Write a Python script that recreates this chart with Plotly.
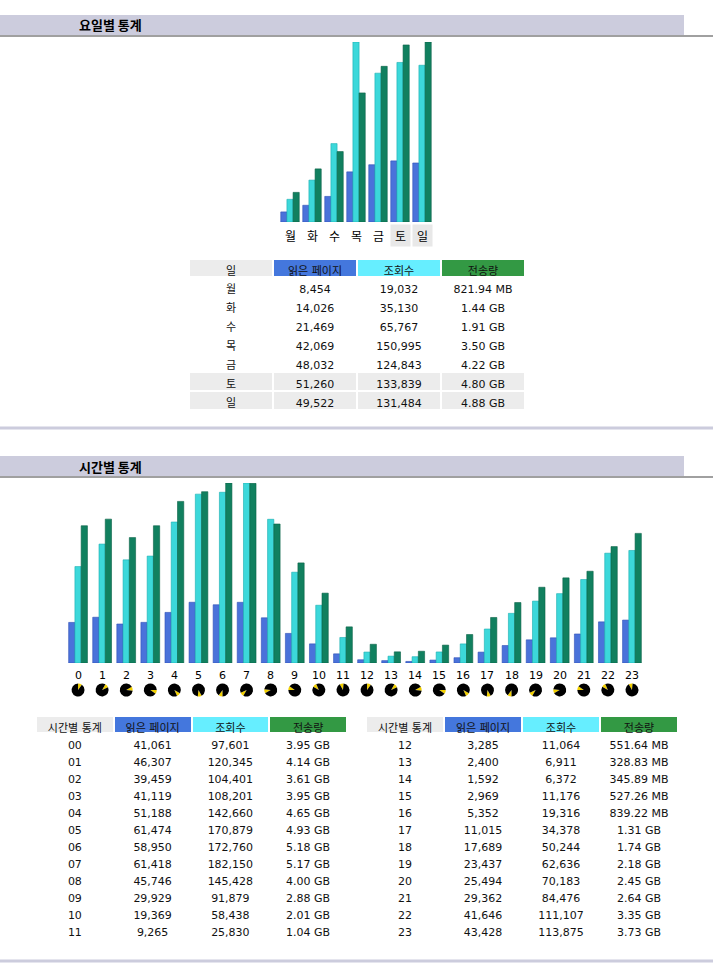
import plotly.graph_objects as go

# ---------------- data ----------------
days = ['월', '화', '수', '목', '금', '토', '일']
weekend_days = ['토', '일']
day_pages = [8454, 14026, 21469, 42069, 48032, 51260, 49522]
day_hits = [19032, 35130, 65767, 150995, 124843, 133839, 131484]
day_bw = ['821.94 MB', '1.44 GB', '1.91 GB', '3.50 GB', '4.22 GB', '4.80 GB', '4.88 GB']

hours = [str(h) for h in range(24)]
hour_labels = ['%02d' % h for h in range(24)]
hour_pages = [41061, 46307, 39459, 41119, 51188, 61474, 58950, 61418, 45746, 29929, 19369, 9265,
              3285, 2400, 1592, 2969, 5352, 11015, 17689, 23437, 25494, 29362, 41646, 43428]
hour_hits = [97601, 120345, 104401, 108201, 142660, 170879, 172760, 182150, 145428, 91879, 58438, 25830,
             11064, 6911, 6372, 11176, 19316, 34378, 50244, 62636, 70183, 84476, 111107, 113875]
hour_bw = ['3.95 GB', '4.14 GB', '3.61 GB', '3.95 GB', '4.65 GB', '4.93 GB', '5.18 GB', '5.17 GB',
           '4.00 GB', '2.88 GB', '2.01 GB', '1.04 GB', '551.64 MB', '328.83 MB', '345.89 MB',
           '527.26 MB', '839.22 MB', '1.31 GB', '1.74 GB', '2.18 GB', '2.45 GB', '2.64 GB',
           '3.35 GB', '3.73 GB']

col_titles_week = ['일', '읽은 페이지', '조회수', '전송량']
col_titles_hour = ['시간별 통계', '읽은 페이지', '조회수', '전송량']
section_titles = ['요일별 통계', '시간별 통계']

# ---------------- helpers ----------------
W, H = 713, 977
FONT = 'Verdana, DejaVu Sans, Noto Sans CJK KR, sans-serif'
C_PAGE, C_HIT, C_BW = '#4A72DA', '#3CD8DA', '#11805F'
C_PAGE_L, C_HIT_L, C_BW_L = '#2F4FB5', '#1AAFB0', '#0A6246'
HDR_COLORS = ['#ECECEC', '#4477DD', '#66EEFF', '#339944']
NB = '\u00a0'


def px(x):
    return x / W


def py(y):
    return 1 - y / H


def to_gb(s):
    v, u = s.split()
    v = float(v)
    return v / 1024 if u == 'MB' else v


def fmt(v):
    return f'{v:,}'


def nb(s):
    return s.replace(' ', NB)


day_bw_gb = [to_gb(s) for s in day_bw]
hour_bw_gb = [to_gb(s) for s in hour_bw]

fig = go.Figure()

# ---------------- weekly bars ----------------
wb = dict(width=0.28)
fig.add_trace(go.Bar(x=days, y=day_pages, offset=-0.42, marker=dict(color=C_PAGE, line=dict(color=C_PAGE_L, width=0.6)),
                     xaxis='x', yaxis='y', **wb))
fig.add_trace(go.Bar(x=days, y=day_hits, offset=-0.14, marker=dict(color=C_HIT, line=dict(color=C_HIT_L, width=0.6)),
                     xaxis='x', yaxis='y', **wb))
fig.add_trace(go.Bar(x=days, y=day_bw_gb, offset=0.14, marker=dict(color=C_BW, line=dict(color=C_BW_L, width=0.6)),
                     xaxis='x', yaxis='y2', **wb))

# ---------------- hourly bars ----------------
hb = dict(width=0.26)
fig.add_trace(go.Bar(x=hours, y=hour_pages, offset=-0.39, marker=dict(color=C_PAGE, line=dict(color=C_PAGE_L, width=0.6)),
                     xaxis='x3', yaxis='y3', **hb))
fig.add_trace(go.Bar(x=hours, y=hour_hits, offset=-0.13, marker=dict(color=C_HIT, line=dict(color=C_HIT_L, width=0.6)),
                     xaxis='x3', yaxis='y3', **hb))
fig.add_trace(go.Bar(x=hours, y=hour_bw_gb, offset=0.13, marker=dict(color=C_BW, line=dict(color=C_BW_L, width=0.6)),
                     xaxis='x3', yaxis='y4', **hb))

# ---------------- clocks ----------------
HX0, HX1 = 66, 644
step = (HX1 - HX0) / 24
for h in range(24):
    cx = HX0 + (h + 0.5) * step
    cy = 690
    r = 6.5
    fig.add_trace(go.Pie(values=[1, 9], marker=dict(colors=['#F2D000', '#000000'], line=dict(width=0)),
                         sort=False, direction='clockwise', rotation=(h % 12) * 30,
                         textinfo='none', hoverinfo='skip', showlegend=False,
                         domain=dict(x=[px(cx - r), px(cx + r)], y=[py(cy + r), py(cy - r)])))

# ---------------- tables ----------------
week_fill = [['#ECECEC' if d in weekend_days else 'white' for d in days]] * 4
fig.add_trace(go.Table(
    domain=dict(x=[px(189), px(525)], y=[py(420), py(259)]),
    columnwidth=[1, 1, 1, 1],
    header=dict(values=[nb(t) for t in col_titles_week], fill_color=HDR_COLORS, line=dict(color='white', width=2),
                font=dict(family=FONT, size=11, color='#111'), height=18, align='center'),
    cells=dict(values=[days, [fmt(v) for v in day_pages], [fmt(v) for v in day_hits], [nb(s) for s in day_bw]],
               fill_color=week_fill, line=dict(color='white', width=2),
               font=dict(family=FONT, size=11, color='#111'), height=19, align='center')))

for sl, dom in ((slice(0, 12), (36, 347)), (slice(12, 24), (366, 678))):
    fig.add_trace(go.Table(
        domain=dict(x=[px(dom[0]), px(dom[1])], y=[py(958), py(716)]),
        columnwidth=[1, 1, 1, 1],
        header=dict(values=[nb(t) for t in col_titles_hour], fill_color=HDR_COLORS, line=dict(color='white', width=2),
                    font=dict(family=FONT, size=11, color='#111'), height=17, align='center'),
        cells=dict(values=[hour_labels[sl], [fmt(v) for v in hour_pages[sl]],
                           [fmt(v) for v in hour_hits[sl]], [nb(s) for s in hour_bw[sl]]],
                   fill_color='white', line=dict(color='white', width=1),
                   font=dict(family=FONT, size=11, color='#111'), height=17, align='center')))

# ---------------- layout ----------------
hidden = dict(showgrid=False, zeroline=False, showticklabels=False, showline=False, ticks='', fixedrange=True)
shapes = []
annotations = []
for title, (y0, y1) in zip(section_titles, ((15, 35), (456, 476))):
    shapes.append(dict(type='rect', xref='paper', yref='paper', x0=0, x1=px(684), y0=py(y1), y1=py(y0),
                       fillcolor='#CCCCDD', line=dict(width=0), layer='below'))
    shapes.append(dict(type='line', xref='paper', yref='paper', x0=0, x1=1, y0=py(y1 + 1), y1=py(y1 + 1),
                       line=dict(color='#808080', width=1.5)))
    annotations.append(dict(text='<b>' + title + '</b>', xref='paper', yref='paper', x=px(77), y=py((y0 + y1) / 2),
                            xanchor='left', yanchor='middle', showarrow=False,
                            font=dict(family='Noto Sans CJK KR, DejaVu Sans', size=13, color='#000')))
for yy in (428, 961):
    shapes.append(dict(type='line', xref='paper', yref='paper', x0=0, x1=1, y0=py(yy), y1=py(yy),
                       line=dict(color='#CCCCDD', width=3)))

for d in days:
    annotations.append(dict(text=d, xref='x', yref='paper', x=d, y=py(235), xanchor='center', yanchor='middle',
                            showarrow=False, width=17, height=19,
                            bgcolor='#E8E8E8' if d in weekend_days else 'rgba(0,0,0,0)',
                            font=dict(family='Noto Sans CJK KR, DejaVu Sans', size=12, color='#000')))
for h in hours:
    annotations.append(dict(text=h, xref='x3', yref='paper', x=h, y=py(675), xanchor='center', yanchor='middle',
                            showarrow=False, font=dict(family=FONT, size=11, color='#000')))

fig.update_layout(
    width=W, height=H, margin=dict(l=0, r=0, t=0, b=0), paper_bgcolor='white', plot_bgcolor='rgba(0,0,0,0)',
    showlegend=False, barmode='overlay', font=dict(family=FONT),
    xaxis=dict(domain=[px(279), px(433)], type='category', anchor='y', **hidden),
    yaxis=dict(domain=[py(222), py(42)], range=[0, max(day_hits)], anchor='x', **hidden),
    yaxis2=dict(overlaying='y', range=[0, max(day_bw_gb)], anchor='x', **hidden),
    xaxis3=dict(domain=[px(HX0), px(HX1)], type='category', anchor='y3', **hidden),
    yaxis3=dict(domain=[py(663), py(483)], range=[0, max(hour_hits)], anchor='x3', **hidden),
    yaxis4=dict(overlaying='y3', range=[0, max(hour_bw_gb)], anchor='x3', **hidden),
    shapes=shapes, annotations=annotations,
)

fig.write_html('out.html', config={'displayModeBar': False},
               post_script="document.body.style.margin='0';document.body.style.overflow='hidden';")
